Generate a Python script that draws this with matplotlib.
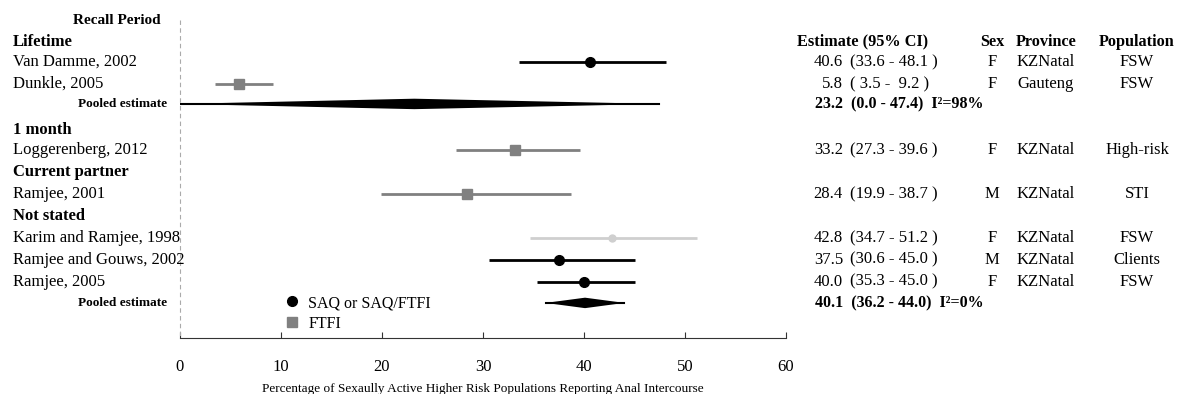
import matplotlib
matplotlib.use("Agg")
import matplotlib.pyplot as plt
from matplotlib.transforms import blended_transform_factory
from matplotlib.lines import Line2D
from matplotlib.patches import Polygon

plt.rcParams['font.family'] = ['Liberation Serif', 'DejaVu Serif']

# ---- data ----
groups = ["Lifetime", "1 month", "Current partner", "Not stated"]
studies = ["Van Damme, 2002", "Dunkle, 2005", "Loggerenberg, 2012", "Ramjee, 2001",
           "Karim and Ramjee, 1998", "Ramjee and Gouws, 2002", "Ramjee, 2005"]
est = [40.6, 5.8, 33.2, 28.4, 42.8, 37.5, 40.0]
ci_lo = [33.6, 3.5, 27.3, 19.9, 34.7, 30.6, 35.3]
ci_hi = [48.1, 9.2, 39.6, 38.7, 51.2, 45.0, 45.0]
method = ["SAQ", "FTFI", "FTFI", "FTFI", "NS", "SAQ", "SAQ"]
sex = ["F", "F", "F", "M", "F", "M", "F"]
province = ["KZNatal", "Gauteng", "KZNatal", "KZNatal", "KZNatal", "KZNatal", "KZNatal"]
population = ["FSW", "FSW", "High-risk", "STI", "FSW", "Clients", "FSW"]
pooled_est = [23.2, 40.1]
pooled_lo = [0.0, 36.2]
pooled_hi = [47.4, 44.0]
pooled_i2 = [98, 0]
xticks = [0, 10, 20, 30, 40, 50, 60]
xlabel = "Percentage of Sexaully Active Higher Risk Populations Reporting Anal Intercourse"

# ---- layout ----
W, H = 1178, 394
group_rows = [1, 5.05, 6.97, 8.99]
study_rows = [1.93, 2.94, 5.96, 7.98, 10, 11, 12]
pooled_rows = [3.85, 12.98]
styles = {"SAQ": dict(color="black", marker="o", ms=7),
          "FTFI": dict(color="#808080", marker="s", ms=6.5),
          "NS": dict(color="#cfcfcf", marker="o", ms=5)}

fig = plt.figure(figsize=(W / 100, H / 100), dpi=100)
ax = fig.add_axes([180 / W, (H - 338) / H, (786 - 180) / W, (338 - 10) / H])
ax.set_xlim(0, 60)
ax.set_ylim(14.59, -0.46)
for s in ["top", "right", "left"]:
    ax.spines[s].set_visible(False)
ax.spines["bottom"].set_color("#333333")
ax.set_yticks([])
ax.set_xticks(xticks)
ax.set_xticklabels([str(t) for t in xticks], fontsize=12)
ax.tick_params(axis="x", direction="in", length=4, pad=15, color="#333333")
ax.set_xlabel(xlabel, fontsize=9.5, labelpad=6)

ax.plot([0, 0], [0, 14.59], ls=(0, (4, 3)), color="#aaaaaa", lw=0.8, clip_on=False)

for i in range(len(studies)):
    st = styles[method[i]]
    y = study_rows[i]
    ax.plot([ci_lo[i], ci_hi[i]], [y, y], color=st["color"], lw=2, solid_capstyle="butt")
    ax.plot(est[i], y, marker=st["marker"], color=st["color"], ms=st["ms"], mec=st["color"])

for j in range(len(pooled_est)):
    y = pooled_rows[j]
    h = 0.24
    poly = Polygon([[pooled_lo[j], y], [pooled_est[j], y - h], [pooled_hi[j], y],
                    [pooled_est[j], y + h]], closed=True, color="black", lw=0)
    ax.add_patch(poly)
    ax.plot([pooled_lo[j], pooled_hi[j]], [y, y], color="black", lw=1.5)

handles = [Line2D([], [], ls="none", **styles["SAQ"], mec="black"),
           Line2D([], [], ls="none", **styles["FTFI"])]
ax.legend(handles, ["SAQ or SAQ/FTFI", "FTFI"], loc="upper left",
          bbox_to_anchor=((286 - 180) / 606, (338 - 295) / 328), frameon=False,
          fontsize=11.5, handlelength=0.8, handletextpad=0.6, labelspacing=0.3,
          borderpad=0, borderaxespad=0)

# ---- text columns ----
tr = blended_transform_factory(fig.transFigure, ax.transData)
def fx(px):
    return px / W

ax.text(fx(117), 0, "Recall Period", transform=tr, ha="center", va="center",
        fontsize=11, fontweight="bold")
for g, y in zip(groups, group_rows):
    ax.text(fx(13), y, g, transform=tr, ha="left", va="center", fontsize=12, fontweight="bold")
for s, y in zip(studies, study_rows):
    ax.text(fx(13), y, s, transform=tr, ha="left", va="center", fontsize=12)
for y in pooled_rows:
    ax.text(fx(167), y, "Pooled estimate", transform=tr, ha="right", va="center",
            fontsize=9.5, fontweight="bold")

hy = group_rows[0]
ax.text(fx(797), hy, "Estimate (95% CI)", transform=tr, ha="left", va="center",
        fontsize=11.7, fontweight="bold")
ax.text(fx(992), hy, "Sex", transform=tr, ha="center", va="center", fontsize=11.7, fontweight="bold")
ax.text(fx(1046), hy, "Province", transform=tr, ha="center", va="center", fontsize=11.7, fontweight="bold")
ax.text(fx(1137), hy, "Population", transform=tr, ha="center", va="center", fontsize=11.7, fontweight="bold")

for i, y in enumerate(study_rows):
    ax.text(fx(843), y, f"{est[i]:.1f}", transform=tr, ha="right", va="center", fontsize=12)
    ax.text(fx(850), y, f"({ci_lo[i]:4.1f} - {ci_hi[i]:4.1f} )", transform=tr, ha="left",
            va="center", fontsize=12)
    ax.text(fx(992), y, sex[i], transform=tr, ha="center", va="center", fontsize=12)
    ax.text(fx(1046), y, province[i], transform=tr, ha="center", va="center", fontsize=12)
    ax.text(fx(1137), y, population[i], transform=tr, ha="center", va="center", fontsize=12)

for j, y in enumerate(pooled_rows):
    ax.text(fx(815), y, f"{pooled_est[j]:.1f}  ({pooled_lo[j]:.1f} - {pooled_hi[j]:.1f})  I\u00b2={pooled_i2[j]}%",
            transform=tr, ha="left", va="center", fontsize=11.5, fontweight="bold")

fig.savefig("out.png", dpi=100)
